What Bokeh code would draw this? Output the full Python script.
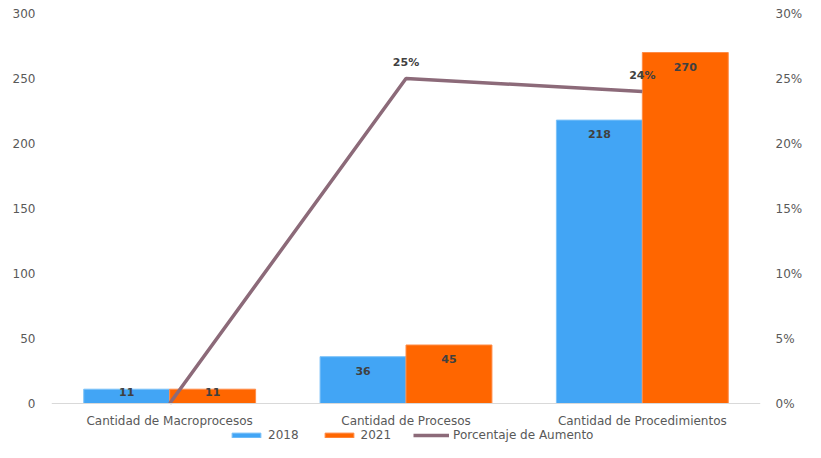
from bokeh.plotting import figure
from bokeh.models import (FactorRange, Range1d, LinearAxis, NumeralTickFormatter, FixedTicker,
                          ColumnDataSource, LabelSet, Legend, LegendItem, Span)
from bokeh.core.properties import value
from bokeh.transform import dodge
from bokeh.embed import file_html
from bokeh.resources import INLINE

categories = ["Cantidad de Macroprocesos", "Cantidad de Procesos", "Cantidad de Procedimientos"]
values_2018 = [11, 36, 218]
values_2021 = [11, 45, 270]
pct_increase = [0.0, 0.25, 0.24]
pct_labels = ["", "25%", "24%"]
count_ticks = [0, 50, 100, 150, 200, 250, 300]
pct_ticks = [0.0, 0.05, 0.10, 0.15, 0.20, 0.25, 0.30]

BLUE = "#42A5F5"
ORANGE = "#FF6600"
LINE = "#8C6A79"
TXT = "#595959"
LBL = "#404040"
FONT = "DejaVu Sans"

PX_PER_UNIT = 1.3
Y_LOW = -30      # room below the baseline for category labels and legend
P_LOW = -0.03


def label_offset(v):
    # downward screen offset of a value label from its bar top
    return 14 if v * PX_PER_UNIT > 28 else 3


src = ColumnDataSource(dict(
    cat=categories,
    base=[0] * len(categories),
    v18=values_2018,
    v21=values_2021,
    t18=[str(v) for v in values_2018],
    t21=[str(v) for v in values_2021],
    o18=[label_offset(v) for v in values_2018],
    o21=[label_offset(v) for v in values_2021],
    pct=pct_increase,
    tp=pct_labels,
))

p = figure(x_range=FactorRange(factors=categories, range_padding=0),
           y_range=Range1d(Y_LOW, 300),
           width=805, height=442, x_axis_location=None,
           output_backend="svg", toolbar_location=None,
           min_border_left=51, min_border_right=28, min_border_top=13, min_border_bottom=0,
           outline_line_color=None, background_fill_color="white", border_fill_color="white")
p.extra_y_ranges = {"pct": Range1d(P_LOW, 0.30)}

p.xgrid.grid_line_color = None
p.ygrid.grid_line_color = None


def style_axis(ax, standoff):
    ax.major_tick_line_color = None
    ax.minor_tick_line_color = None
    ax.major_tick_out = 0
    ax.major_tick_in = 0
    ax.major_label_standoff = standoff
    ax.major_label_text_font = FONT
    ax.major_label_text_font_size = "12px"
    ax.major_label_text_color = TXT
    ax.axis_line_color = None


p.yaxis.ticker = FixedTicker(ticks=count_ticks)
style_axis(p.yaxis[0], 16)

ra = LinearAxis(y_range_name="pct", ticker=FixedTicker(ticks=pct_ticks),
                formatter=NumeralTickFormatter(format="0%"))
style_axis(ra, 15)
p.add_layout(ra, "right")

# category axis baseline
p.add_layout(Span(location=0, dimension="width", line_color="#D9D9D9", line_width=1))

W = 0.3636
r18 = p.vbar(x=dodge("cat", -W / 2, range=p.x_range), top="v18", bottom="base", width=W,
             source=src, fill_color=BLUE, line_color="#7CC2F8", line_width=1)
r21 = p.vbar(x=dodge("cat", W / 2, range=p.x_range), top="v21", bottom="base", width=W,
             source=src, fill_color=ORANGE, line_color="#FF8C47", line_width=1)
rl = p.line(x="cat", y="pct", y_range_name="pct", source=src, line_color=LINE, line_width=3.5)

# category labels under the baseline
p.add_layout(LabelSet(x="cat", y="base", text="cat", y_offset=-17, source=src,
                      text_align="center", text_baseline="middle",
                      text_font=value(FONT), text_font_size="12px", text_color=TXT))

# value labels inside the bars
for xf, yf, tf, of in [(dodge("cat", -W / 2, range=p.x_range), "v18", "t18", "o18"),
                       (dodge("cat", W / 2, range=p.x_range), "v21", "t21", "o21")]:
    p.text(x=xf, y=yf, text=tf, y_offset=of, source=src,
           text_align="center", text_baseline="middle",
           text_font=value(FONT), text_font_size="11px", text_font_style="bold",
           text_color=LBL)

# percentage labels on the line
p.add_layout(LabelSet(x="cat", y="pct", y_range_name="pct", text="tp", y_offset=16, source=src,
                      text_align="center", text_baseline="middle",
                      text_font=value(FONT), text_font_size="11px", text_font_style="bold",
                      text_color=LBL))

legend = Legend(items=[LegendItem(label="2018", renderers=[r18]),
                       LegendItem(label="2021", renderers=[r21]),
                       LegendItem(label="Porcentaje de Aumento", renderers=[rl])],
                orientation="horizontal", location=(177, 0),
                padding=0, margin=0, spacing=22, label_standoff=4,
                glyph_width=36, glyph_height=6, label_height=14,
                border_line_color=None, background_fill_alpha=0,
                label_text_font=FONT, label_text_font_size="12px", label_text_color=TXT)
p.add_layout(legend)

open("out.html", "w").write(file_html(p, INLINE))
